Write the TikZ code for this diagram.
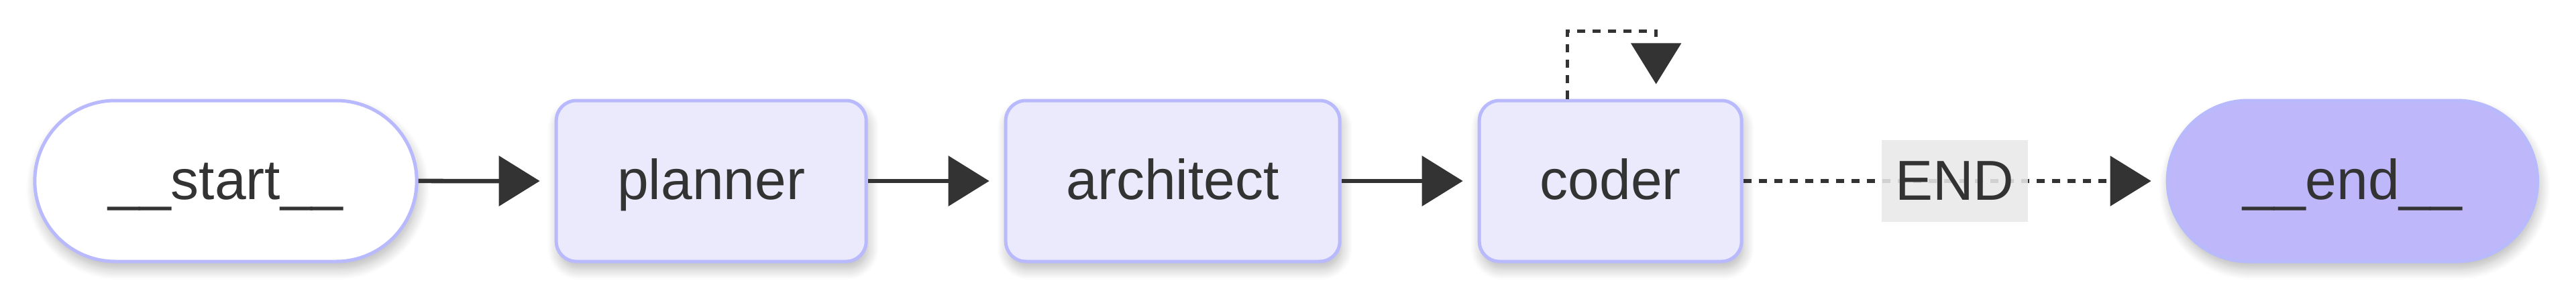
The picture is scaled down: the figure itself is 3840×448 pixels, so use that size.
\documentclass[tikz,border=0pt]{standalone}
\usepackage{fontspec}
\setmainfont{Liberation Sans}
\usepackage{xcolor}
\usetikzlibrary{arrows.meta, positioning, shapes.misc, shadows.blur}

\definecolor{ink}{HTML}{333333}
\definecolor{nodeline}{HTML}{B9B9FE}
\definecolor{nodefill}{HTML}{EAEAFC}
\definecolor{endfill}{HTML}{BEB8FB}
\definecolor{labelfill}{HTML}{E8E8E8}

\begin{document}
\begin{tikzpicture}[x=1pt, y=1pt, >={Triangle[length=61pt, width=74pt]},
    font=\fontsize{84}{100}\selectfont, text=ink, node distance=203pt,
    softshadow/.style={blur shadow={shadow xshift=3pt, shadow yshift=-11pt,
        shadow blur radius=16pt, shadow blur steps=10, shadow opacity=28}},
    box/.style={draw=nodeline, line width=5pt, fill=nodefill, rounded corners=30pt,
        minimum height=240pt, text height=54pt, text depth=0pt, softshadow},
    term/.style={draw=nodeline, line width=5pt, rounded rectangle,
        minimum height=240pt, text height=54pt, text depth=0pt, softshadow},
    flow/.style={->, draw=ink, line width=6.5pt, shorten >=22pt},
    cond/.style={flow, line width=5.5pt, dash pattern=on 12pt off 11pt},
    condlabel/.style={fill=labelfill, fill opacity=0.88, text opacity=1,
        minimum width=218pt, minimum height=122pt, inner sep=0pt,
        text height=56pt, text depth=0pt}]
  \useasboundingbox (0,0) rectangle (3840,448);

  \node[term, fill=white, minimum width=576pt] (start) at (336.5,178) {\_\_start\_\_};
  \node[box, minimum width=462pt, right=of start] (planner) {planner};
  \node[box, minimum width=498pt, right=of planner] (architect) {architect};
  \node[box, minimum width=391pt, right=of architect] (coder) {coder};
  \node[term, fill=endfill, minimum width=558pt, right=630pt of coder] (end) {\_\_end\_\_};

  \draw[flow] (start) -- (planner);
  \draw[flow] (planner) -- (architect);
  \draw[flow] (architect) -- (coder);
  \draw[cond] (coder) -- node[condlabel] {END} (end);
  % coder loops back on itself
  \draw[cond] ([xshift=-64pt]coder.north) -- ++(0,101) -| ([xshift=68pt]coder.north);
\end{tikzpicture}
\end{document}
